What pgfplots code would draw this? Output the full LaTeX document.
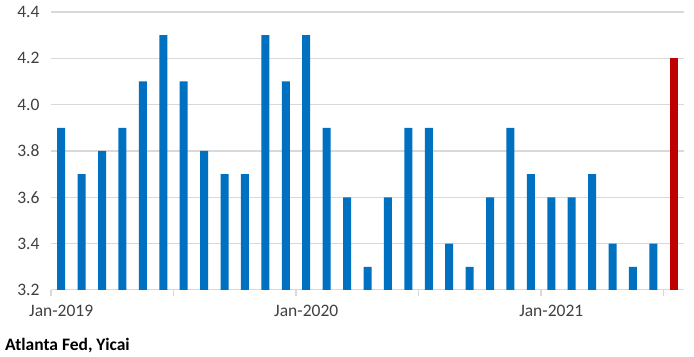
\documentclass[border=0pt]{standalone}
\usepackage{pgfplots}
\pgfplotsset{compat=1.18}
\usepackage{fontspec}
\setmainfont{Carlito}
\definecolor{barblue}{HTML}{0070C0}
\definecolor{barred}{HTML}{C00000}
\definecolor{txt}{HTML}{404040}
\definecolor{gridc}{HTML}{D9D9D9}
\begin{document}
\begin{tikzpicture}
\path[use as bounding box] (0,0) rectangle (694bp,357bp);
\begin{axis}[
  at={(51bp,67bp)}, anchor=south west,
  scale only axis, width=633bp, height=278bp,
  xmin=-0.5, xmax=30.5, ymin=3.2, ymax=4.4,
  ytick={3.2,3.4,...,4.41},
  /pgf/number format/fixed, /pgf/number format/fixed zerofill,
  /pgf/number format/precision=1, /pgf/number format/assume math mode=true,
  yticklabel style={font=\fontsize{17.5bp}{20bp}\selectfont, text=txt, xshift=-8bp},
  xtick={0,12,24}, xticklabels={Jan-2019,Jan-2020,Jan-2021},
  xticklabel style={font=\fontsize{17.5bp}{20bp}\selectfont, text=txt, anchor=north, yshift=-12bp},
  minor xtick={-0.5,5.5,11.5,17.5,23.5,29.5},
  major tick length=0pt, minor tick length=6bp,
  tick align=outside, xtick pos=lower, ytick pos=left,
  every minor tick/.style={draw=gridc, line width=1.2bp},
  axis line style={draw=none},
  ybar, bar width=8bp, bar shift=0pt,
]
\pgfplotsinvokeforeach{3.2,3.4,3.6,3.8,4.0,4.2,4.4}{
  \draw[gridc, line width=1.2bp] (axis cs:-0.5,#1) -- (axis cs:30.5,#1);
}
\addplot[fill=barblue, draw=none] coordinates {
(0,3.9) (1,3.7) (2,3.8) (3,3.9) (4,4.1) (5,4.3) (6,4.1) (7,3.8) (8,3.7) (9,3.7)
(10,4.3) (11,4.1) (12,4.3) (13,3.9) (14,3.6) (15,3.3) (16,3.6) (17,3.9) (18,3.9) (19,3.4)
(20,3.3) (21,3.6) (22,3.9) (23,3.7) (24,3.6) (25,3.6) (26,3.7) (27,3.4) (28,3.3) (29,3.4)
};
\addplot[fill=barred, draw=none] coordinates {(30,4.2)};
\end{axis}
\node[anchor=base west, inner sep=0pt, font=\fontsize{17.5bp}{20bp}\selectfont\bfseries] at (5bp,7bp) {Atlanta Fed, Yicai};
\end{tikzpicture}
\end{document}
